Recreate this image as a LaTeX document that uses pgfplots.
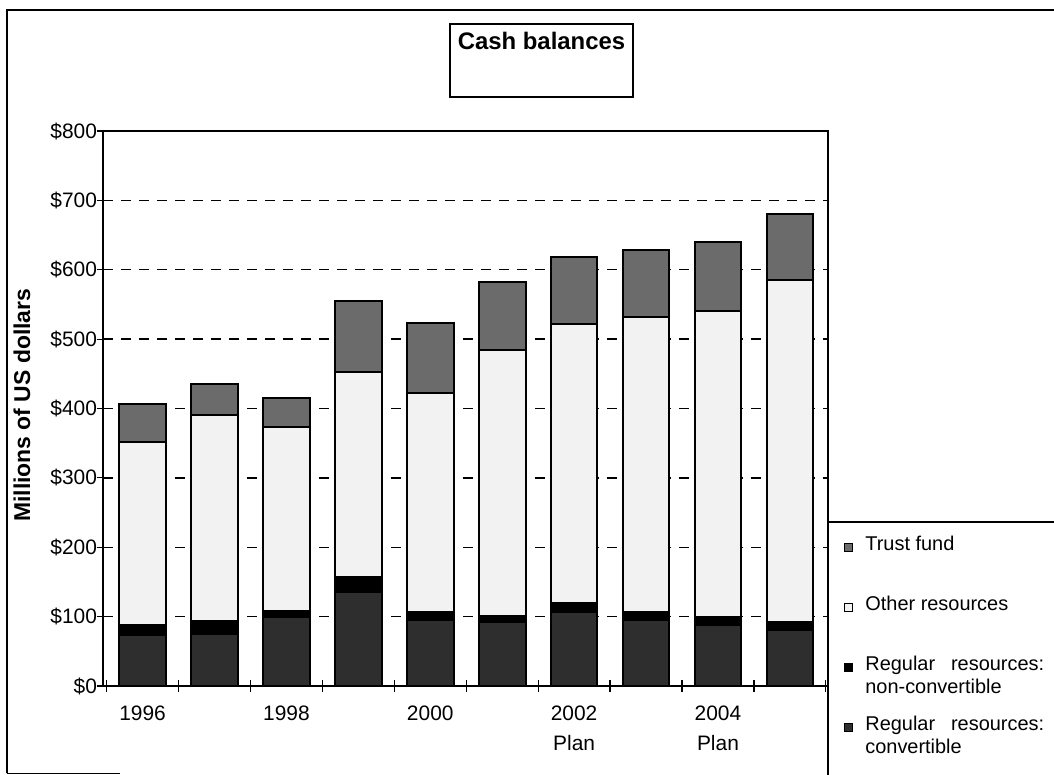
\documentclass[border=0pt]{standalone}
\usepackage{fontspec}
\setmainfont{Liberation Sans}
\usepackage{pgfplots}
\pgfplotsset{compat=1.18}

\begin{document}
\begin{tikzpicture}
\useasboundingbox (0bp,0bp) rectangle (527bp,387.5bp);
% outer frame
\draw[line width=0.8bp] (3.5bp,0.8bp) -- (3.5bp,382.5bp) -- (527bp,382.5bp);
\draw[line width=0.8bp] (3.5bp,0.8bp) -- (60bp,0.8bp);
\begin{axis}[
  at={(51.5bp,44.5bp)}, anchor=south west,
  scale only axis, width=362.5bp, height=277.5bp,
  ybar stacked, bar width=0.65,
  xmin=-0.55, xmax=9.53, ymin=0, ymax=800,
  axis line style={line width=1bp},
  tick align=center, major tick length=6bp,
  tick style={black, line width=0.6bp},
  xtick pos=left, ytick pos=left,
  xtick={-0.5,0.5,...,9.5}, xticklabels={},
  extra x ticks={0,2,4,6,8},
  extra x tick labels={1996,1998,2000,{2002\\Plan},{2004\\Plan}},
  extra x tick style={major tick length=0pt,
    xticklabel style={align=center, yshift=-6.5bp}},
  ytick={0,100,...,800},
  yticklabel={\$\pgfmathprintnumber{\tick}},
  yticklabel style={xshift=3.5bp},
  /pgf/number format/assume math mode=true,
  ticklabel style={font=\fontsize{10.5}{15}\selectfont},
  ymajorgrids,
  major grid style={black, line width=0.7bp, dash pattern=on 5bp off 4bp},
  ylabel={Millions of US dollars},
  every axis y label/.style={at={(rel axis cs:0,0.506)}, rotate=90,
    anchor=center, yshift=40.5bp, font=\bfseries\fontsize{11.5}{13}\selectfont},
  reverse legend,
  legend cell align=left,
  legend image code/.code={\draw[#1, line width=0.5bp] (0bp,-3.5bp) rectangle (4bp,0.5bp);},
  legend style={at={(rel axis cs:1,0.2955)}, anchor=north west, draw=none, fill=none,
    font=\fontsize{10}{11.5}\selectfont, row sep=20bp, column sep=4bp,
    inner xsep=8bp, inner ysep=6bp,
    nodes={inner ysep=0pt, text height=8bp, text depth=2bp}},
]
\addplot[fill=black!82, draw=black, line width=1bp] coordinates
  {(0,74) (1,75) (2,100) (3,136) (4,95) (5,92) (6,107) (7,95) (8,88) (9,81)};
\addplot[fill=black, draw=black, line width=1bp] coordinates
  {(0,14) (1,19) (2,8) (3,21) (4,12) (5,9) (6,13) (7,12) (8,12) (9,11)};
\addplot[fill=black!5, draw=black, line width=1bp] coordinates
  {(0,263) (1,296) (2,265) (3,295) (4,316) (5,383) (6,402) (7,425) (8,440) (9,493)};
\addplot[fill=black!58, draw=black, line width=1bp] coordinates
  {(0,55) (1,46) (2,42) (3,103) (4,100) (5,98) (6,96) (7,97) (8,100) (9,96)};
\legend{{\begin{tabular}[t]{@{}l@{}}Regular\hspace{0.8em}resources:\\convertible\end{tabular}},
  {\begin{tabular}[t]{@{}l@{}}Regular\hspace{0.8em}resources:\\non-convertible\end{tabular}},
  Other resources, Trust fund}
\end{axis}
% legend frame line and title box
\draw[line width=0.6bp] (414bp,126.5bp) -- (527bp,126.5bp);
\draw[line width=1bp] (414bp,44.5bp) -- (414bp,0bp);
\draw[line width=0.6bp] (225bp,339bp) rectangle (316.5bp,375.5bp);
\node[font=\bfseries\fontsize{12}{14}\selectfont] at (270.75bp,367bp) {Cash balances};
\end{tikzpicture}
\end{document}
